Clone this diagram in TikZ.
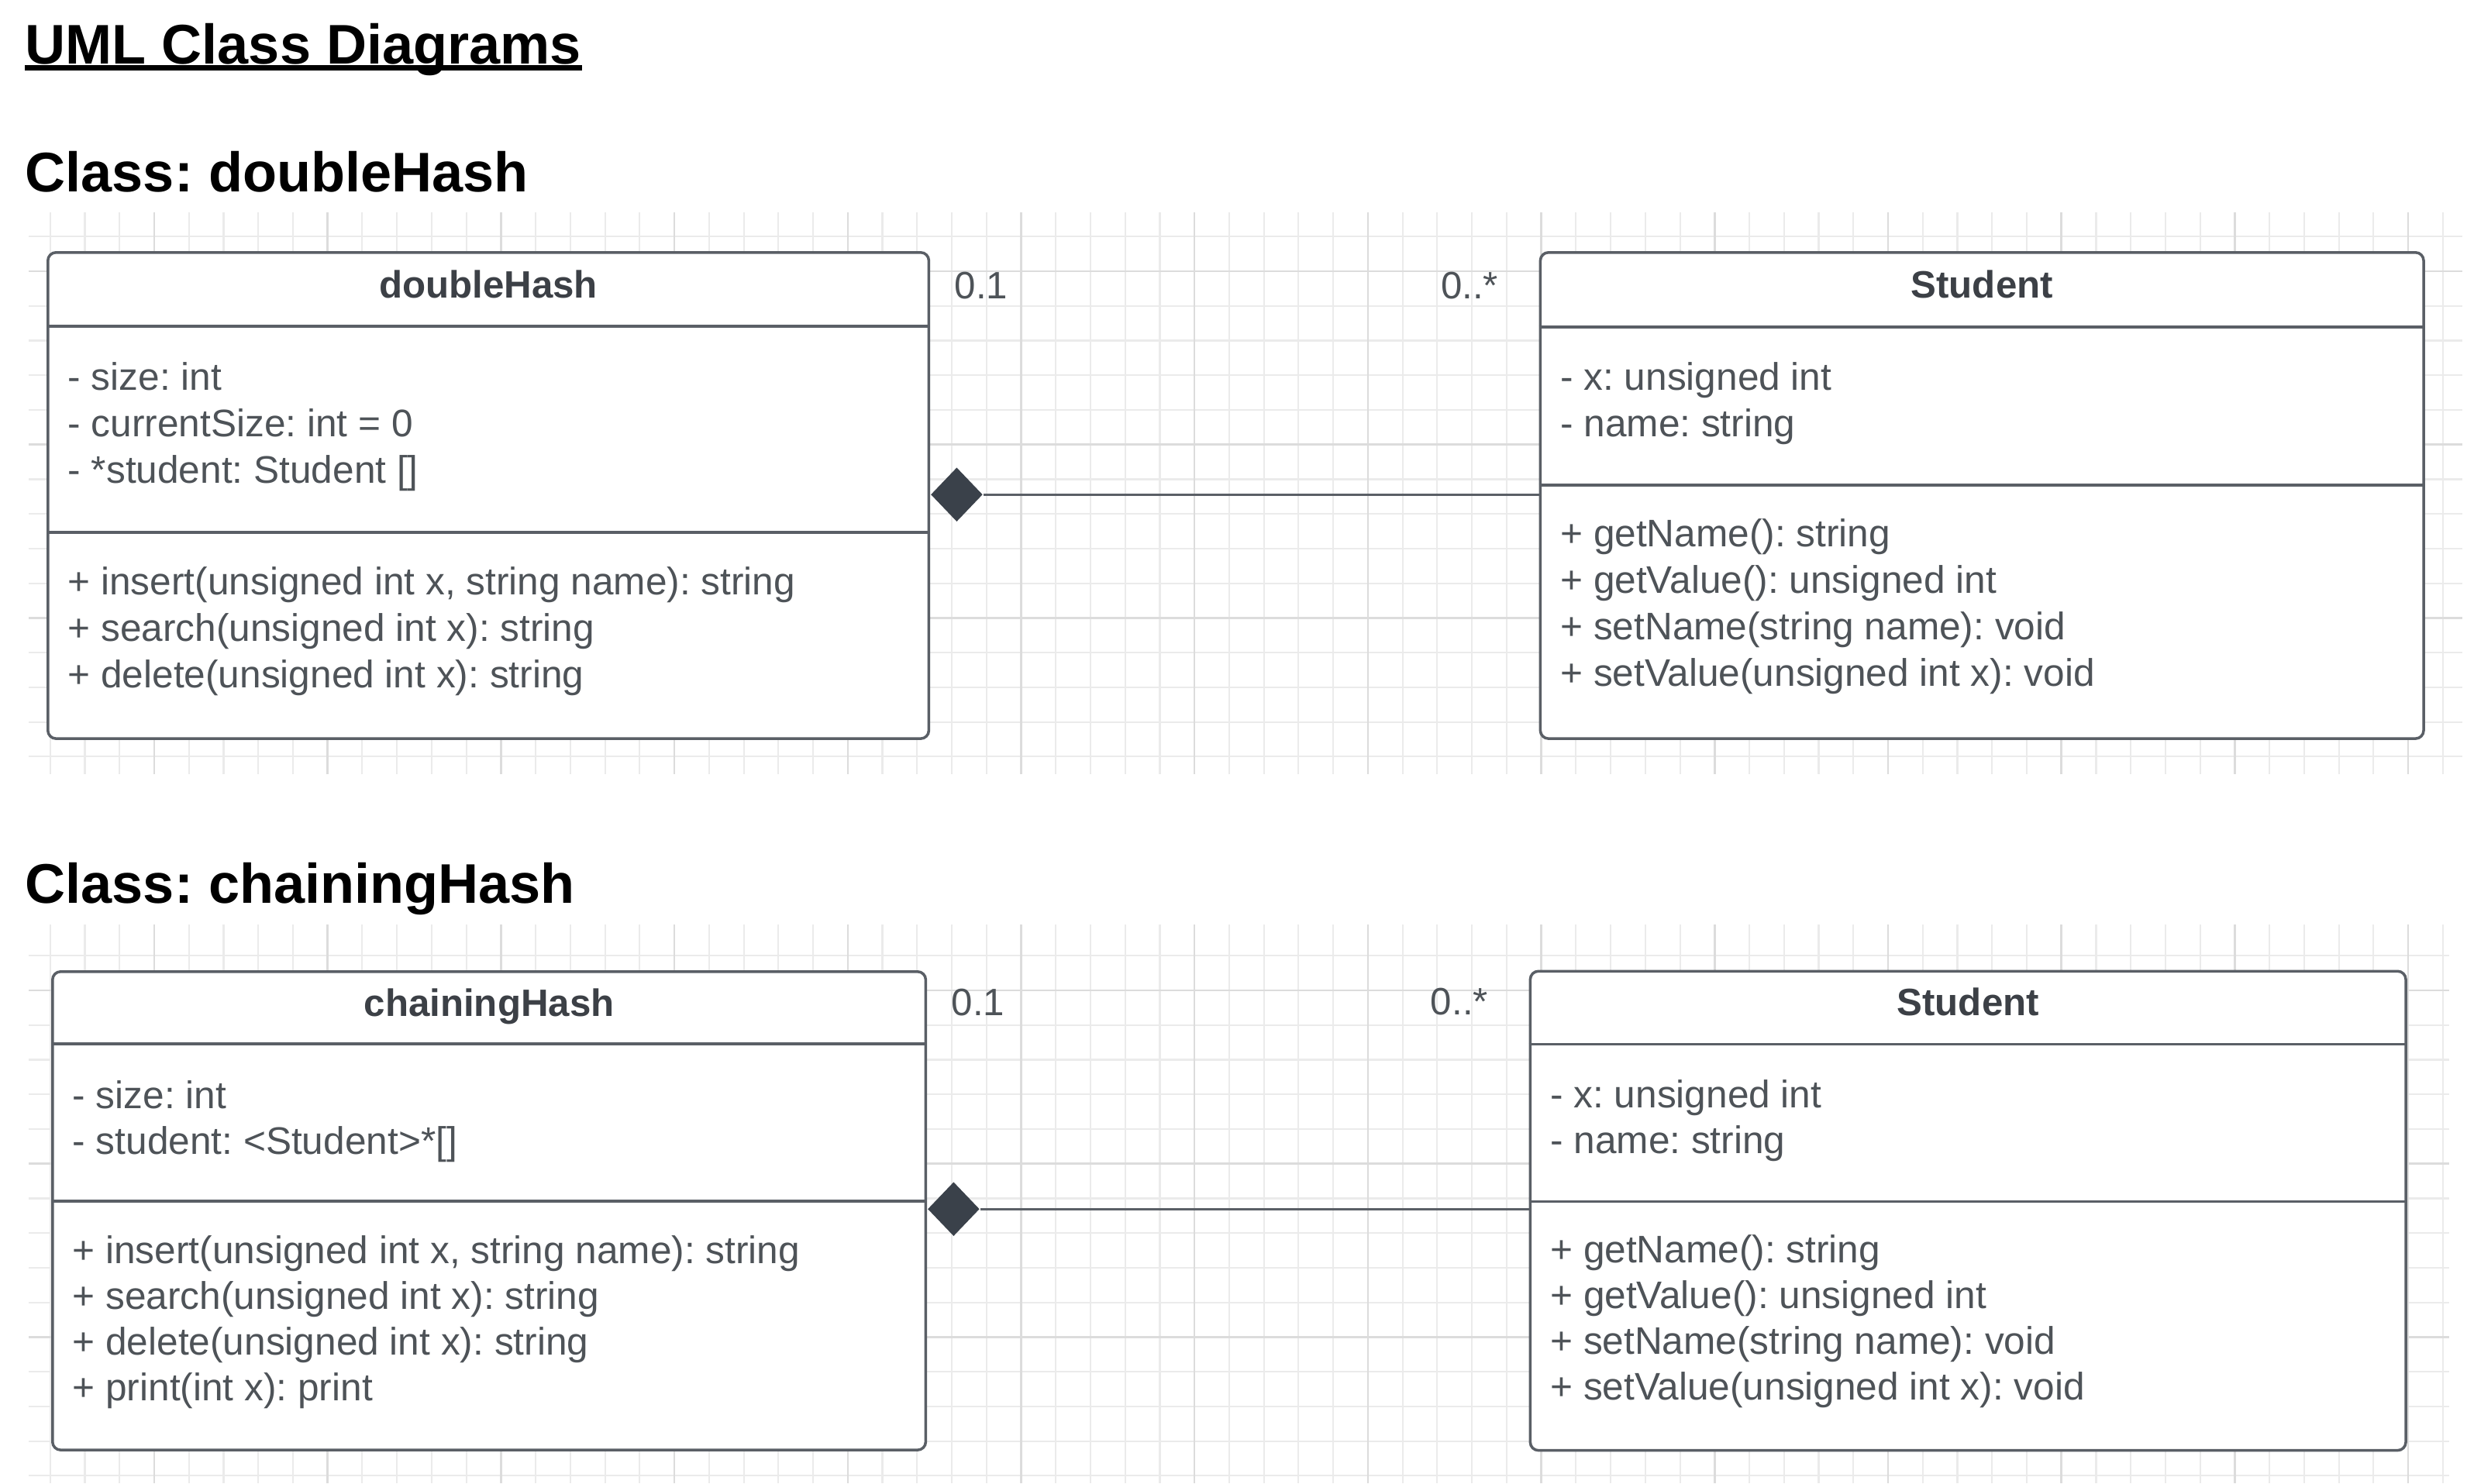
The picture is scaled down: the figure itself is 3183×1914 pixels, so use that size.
\documentclass[tikz,border=0pt]{standalone}
\usepackage{fontspec}
\setmainfont{Liberation Sans}
\usepackage{xcolor}
\usepackage{tikz}
\usetikzlibrary{positioning}
\usetikzlibrary{shapes.geometric}
\usetikzlibrary{calc}
\frenchspacing

\definecolor{umlline}{HTML}{5A5F66}
\definecolor{umltext}{HTML}{4E5358}
\definecolor{umlhead}{HTML}{3C4046}
\definecolor{umldia}{HTML}{3A414A}
\definecolor{gridlo}{HTML}{EBEBEB}
\definecolor{gridhi}{HTML}{DCDCDC}

\begin{document}
\begin{tikzpicture}[x=0.01cm, y=-0.01cm,
  classbox/.style={draw=umlline, line width=1pt, rounded corners=3pt, fill=white, inner sep=0pt},
  divider/.style={draw=umlline, line width=1pt},
  classname/.style={anchor=base, inner sep=0pt, text=umlhead, font=\fontsize{14}{17}\selectfont\bfseries},
  member/.style={anchor=base west, inner sep=0pt, text=umltext, font=\fontsize{14.1}{17}\selectfont},
  mult/.style={inner sep=0pt, text=umltext, font=\fontsize{14}{17}\selectfont},
  heading/.style={anchor=base west, inner sep=0pt, font=\fontsize{20.5}{24}\selectfont\bfseries},
  comp/.style={diamond, fill=umldia, inner sep=0pt, minimum width=0.67cm, minimum height=0.7cm, anchor=west},
  assoc/.style={draw=umlline, line width=0.85pt},
  gridminor/.style={draw=gridlo, line width=0.6pt},
  gridmajor/.style={draw=gridhi, line width=0.7pt}]
  \useasboundingbox (0,0) rectangle (3183,1914);

  % background grids
  \begin{scope}
    \clip (37,274) rectangle (3177,999);
    \foreach \k in {-4,...,67} \draw[gridminor] ({199+44.74*\k},274) -- ({199+44.74*\k},999);
    \foreach \k in {-2,...,15} \draw[gridminor] (37,{350+44.74*\k}) -- (3177,{350+44.74*\k});
    \foreach \k in {-5,0,...,65} \draw[gridmajor] ({199+44.74*\k},274) -- ({199+44.74*\k},999);
    \foreach \k in {0,5,10} \draw[gridmajor] (37,{350+44.74*\k}) -- (3177,{350+44.74*\k});
  \end{scope}
  \begin{scope}
    \clip (37,1193) rectangle (3160,1914);
    \foreach \k in {-4,...,67} \draw[gridminor] ({199+44.74*\k},1193) -- ({199+44.74*\k},1914);
    \foreach \k in {-2,...,15} \draw[gridminor] (37,{1278+44.74*\k}) -- (3160,{1278+44.74*\k});
    \foreach \k in {-5,0,...,65} \draw[gridmajor] ({199+44.74*\k},1193) -- ({199+44.74*\k},1914);
    \foreach \k in {0,5,10,15} \draw[gridmajor] (37,{1278+44.74*\k}) -- (3160,{1278+44.74*\k});
  \end{scope}

  \node(Title)[heading] at (32,82) {UML Class Diagrams};
  \draw[line width=0.07cm] ([yshift=-0.055cm]Title.base west) -- ([yshift=-0.055cm]Title.base east);

  %% doubleHash
  \node(HeadDouble)[heading] at (32,247) {Class: doubleHash};

  \node(doubleHash)[classbox, anchor=north west, minimum width=11.36cm, minimum height=6.27cm] at (60,324) {};
  \node(Student1)[classbox, minimum width=11.39cm, minimum height=6.27cm, right=7.85cm of doubleHash] {};

  \draw[divider] ([yshift=-0.97cm]doubleHash.north west) -- ([yshift=-0.97cm]doubleHash.north east);
  \draw[divider] ([yshift=-3.63cm]doubleHash.north west) -- ([yshift=-3.63cm]doubleHash.north east);
  \draw[divider] ([yshift=-0.98cm]Student1.north west) -- ([yshift=-0.98cm]Student1.north east);
  \draw[divider] ([yshift=-3.02cm]Student1.north west) -- ([yshift=-3.02cm]Student1.north east);

  \node(dhName)[classname] at ([yshift=-0.6cm]doubleHash.north) {doubleHash};
  \foreach \m [count=\i] in {- size: int, - currentSize: int = 0, - *student: Student []}
    \node(dhAttr\i)[member] at ([xshift=0.27cm, yshift={-1.79cm-0.6cm*(\i-1)}]doubleHash.north west) {\m};
  \foreach \m [count=\i] in {{+ insert(unsigned int x, string name): string},
                             {+ search(unsigned int x): string},
                             {+ delete(unsigned int x): string}}
    \node(dhOp\i)[member] at ([xshift=0.27cm, yshift={-4.43cm-0.6cm*(\i-1)}]doubleHash.north west) {\m};

  \node(stName1)[classname] at ([yshift=-0.6cm]Student1.north) {Student};
  \foreach \m [count=\i] in {- x: unsigned int, - name: string}
    \node(stAttrA\i)[member] at ([xshift=0.27cm, yshift={-1.79cm-0.6cm*(\i-1)}]Student1.north west) {\m};
  \foreach \m [count=\i] in {+ getName(): string, + getValue(): unsigned int,
                             + setName(string name): void, + setValue(unsigned int x): void}
    \node(stOpA\i)[member] at ([xshift=0.27cm, yshift={-3.81cm-0.6cm*(\i-1)}]Student1.north west) {\m};

  \node(dhDia)[comp] at ([yshift=-3.14cm]doubleHash.north east) {};
  \draw[assoc] (dhDia.east) -- (Student1.west |- dhDia.east);
  \node(dhOne)[mult, anchor=base west] at ([xshift=0.31cm, yshift=-0.61cm]doubleHash.north east) {0.1};
  \node(dhMany)[mult, anchor=base east] at ([xshift=-0.52cm, yshift=-0.61cm]Student1.north west) {0..*};

  %% chainingHash
  \node(HeadChain)[heading] at (32,1165) {Class: chainingHash};

  \node(chainingHash)[classbox, anchor=north west, minimum width=11.26cm, minimum height=6.17cm] at (66,1252) {};
  \node(Student2)[classbox, minimum width=11.29cm, minimum height=6.18cm, right=7.76cm of chainingHash] {};

  \draw[divider] ([yshift=-0.95cm]chainingHash.north west) -- ([yshift=-0.95cm]chainingHash.north east);
  \draw[divider] ([yshift=-2.98cm]chainingHash.north west) -- ([yshift=-2.98cm]chainingHash.north east);
  \draw[divider] ([yshift=-0.96cm]Student2.north west) -- ([yshift=-0.96cm]Student2.north east);
  \draw[divider] ([yshift=-2.99cm]Student2.north west) -- ([yshift=-2.99cm]Student2.north east);

  \node(chName)[classname] at ([yshift=-0.59cm]chainingHash.north) {chainingHash};
  \foreach \m [count=\i] in {- size: int, - student: <Student>*[]}
    \node(chAttr\i)[member] at ([xshift=0.27cm, yshift={-1.78cm-0.59cm*(\i-1)}]chainingHash.north west) {\m};
  \foreach \m [count=\i] in {{+ insert(unsigned int x, string name): string},
                             {+ search(unsigned int x): string},
                             {+ delete(unsigned int x): string},
                             {+ print(int x): print}}
    \node(chOp\i)[member] at ([xshift=0.27cm, yshift={-3.78cm-0.59cm*(\i-1)}]chainingHash.north west) {\m};

  \node(stName2)[classname] at ([yshift=-0.59cm]Student2.north) {Student};
  \foreach \m [count=\i] in {- x: unsigned int, - name: string}
    \node(stAttrB\i)[member] at ([xshift=0.27cm, yshift={-1.78cm-0.59cm*(\i-1)}]Student2.north west) {\m};
  \foreach \m [count=\i] in {+ getName(): string, + getValue(): unsigned int,
                             + setName(string name): void, + setValue(unsigned int x): void}
    \node(stOpB\i)[member] at ([xshift=0.27cm, yshift={-3.78cm-0.59cm*(\i-1)}]Student2.north west) {\m};

  \node(chDia)[comp] at ([yshift=-3.08cm]chainingHash.north east) {};
  \draw[assoc] (chDia.east) -- (Student2.west |- chDia.east);
  \node(chOne)[mult, anchor=base west] at ([xshift=0.31cm, yshift=-0.58cm]chainingHash.north east) {0.1};
  \node(chMany)[mult, anchor=base east] at ([xshift=-0.52cm, yshift=-0.58cm]Student2.north west) {0..*};

\end{tikzpicture}
\end{document}
